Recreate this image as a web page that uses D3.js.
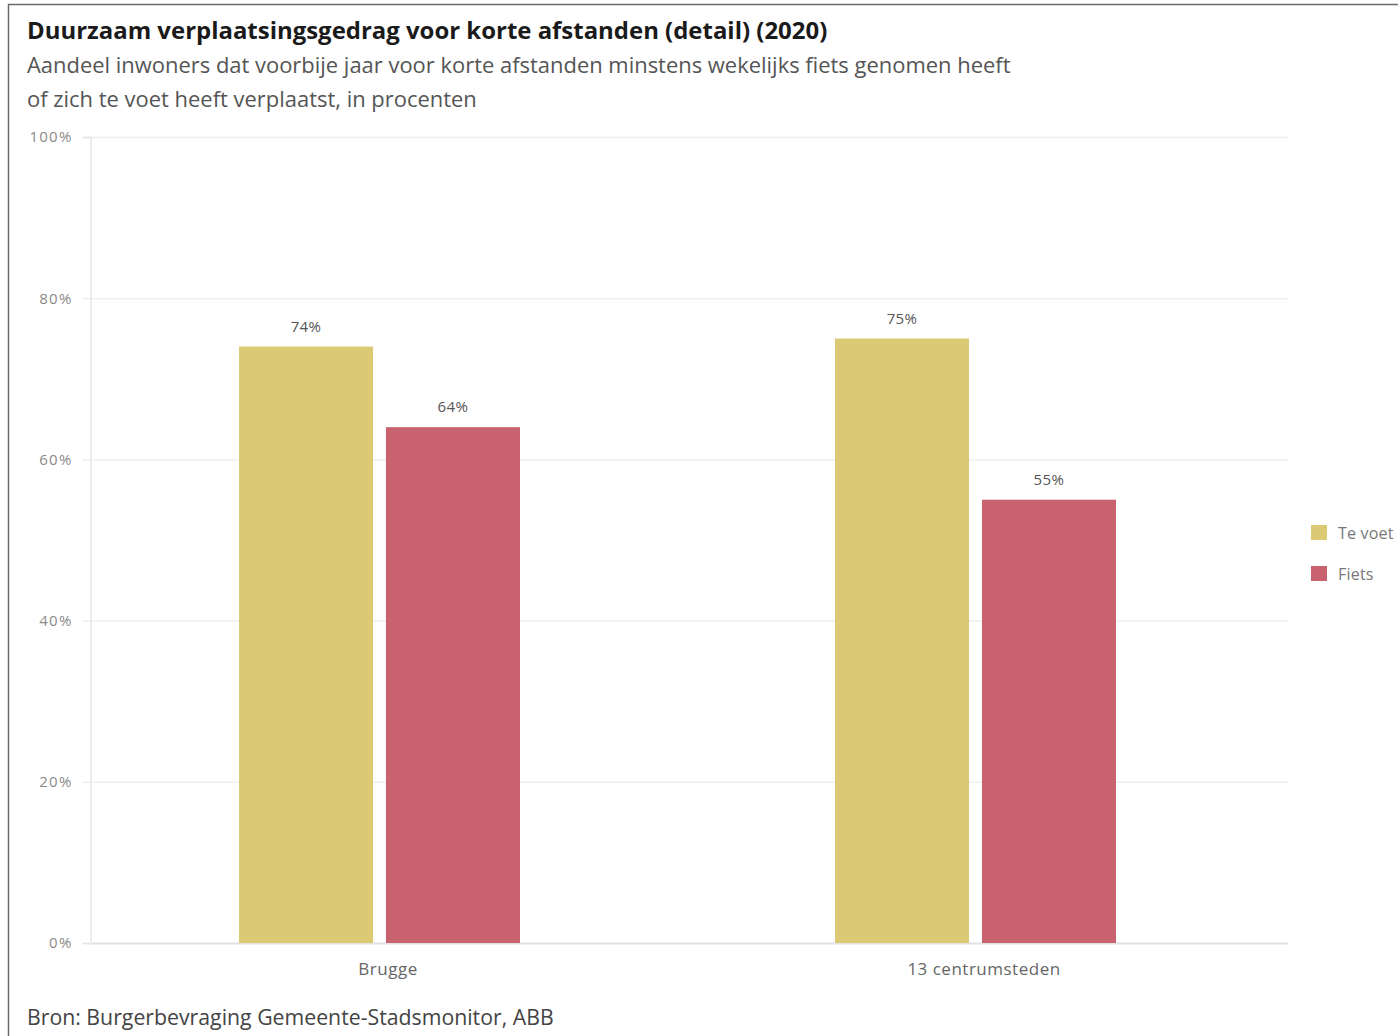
<!DOCTYPE html>
<html><head><meta charset="utf-8">
<script src="https://cdn.jsdelivr.net/npm/d3@7"></script>
<style>
html,body{margin:0;padding:0;background:#fff;overflow:hidden;}
text{font-family:"Open Sans","Noto Sans",sans-serif;}
</style></head>
<body>
<svg id="chart" width="1398" height="1036"></svg>
<script>
const categories = ["Brugge", "13 centrumsteden"];
const seriesNames = ["Te voet", "Fiets"];
const teVoet = [74, 75];
const fiets = [64, 55];
const yTicks = [0, 20, 40, 60, 80, 100];
const yTickLabels = ["0%", "20%", "40%", "60%", "80%", "100%"];
const colors = ["#dbc974", "#c9626f"];

const title = "Duurzaam verplaatsingsgedrag voor korte afstanden (detail) (2020)";
const subtitle1 = "Aandeel inwoners dat voorbije jaar voor korte afstanden minstens wekelijks fiets genomen heeft";
const subtitle2 = "of zich te voet heeft verplaatst, in procenten";
const source = "Bron: Burgerbevraging Gemeente-Stadsmonitor, ABB";

const svg = d3.select("#chart");
const seriesValues = [teVoet, fiets];

// frame
svg.append("rect").attr("x", 8.5).attr("y", 4.5).attr("width", 1500).attr("height", 1200)
  .attr("fill", "none").attr("stroke", "#6b6b6b").attr("stroke-width", 1.5);

function fitText(sel, w) {
  const n = sel.node();
  const cur = n.getComputedTextLength();
  const fs = parseFloat(sel.attr("font-size"));
  sel.attr("font-size", fs * w / cur);
}

const t = svg.append("text").attr("x", 27).attr("y", 39).attr("font-size", 20)
  .attr("font-weight", 700).attr("fill", "#1a1a1a").text(title);
fitText(t, 801);
const s1 = svg.append("text").attr("x", 27).attr("y", 73).attr("font-size", 17)
  .attr("fill", "#555").text(subtitle1);
fitText(s1, 984);
const s2 = svg.append("text").attr("x", 27).attr("y", 107).attr("font-size", 17)
  .attr("fill", "#555").text(subtitle2);
s2.attr("font-size", s1.attr("font-size"));

const y = d3.scaleLinear().domain([0, 100]).range([943, 137]);
const x0 = d3.scaleBand().domain(categories).range([90, 1282]).paddingInner(0.5).paddingOuter(0.25);
const x1 = d3.scaleBand().domain(seriesNames).range([0, 281]).paddingInner(0.088);

// grid
svg.append("g").selectAll("line").data(yTicks).join("line")
  .attr("x1", 90).attr("x2", 1288)
  .attr("y1", d => y(d) + 0.5).attr("y2", d => y(d) + 0.5)
  .attr("stroke", d => d === 0 ? "#e2e2e2" : "#efefef").attr("stroke-width", d => d === 0 ? 2 : 1.5);

// y axis
const yAxis = d3.axisLeft(y).tickValues(yTicks).tickFormat((d, i) => yTickLabels[i]).tickSize(8).tickPadding(10);
const ga = svg.append("g").attr("transform", "translate(90.5,0)").call(yAxis);
ga.select(".domain").attr("stroke", "#ececec").attr("stroke-width", 2);
ga.selectAll(".tick line").attr("stroke", "#e4e4e4");
ga.selectAll(".tick text").attr("fill", "#8a8a8a").attr("font-size", 15)
  .attr("font-family", "'Open Sans','Noto Sans',sans-serif").attr("letter-spacing", 1.2);

// bars
const groups = svg.append("g").selectAll("g").data(categories).join("g")
  .attr("transform", d => `translate(${x0(d)},0)`);
groups.selectAll("rect").data((c, ci) => seriesNames.map((s, si) => ({s, si, v: seriesValues[si][ci]})))
  .join("rect")
  .attr("x", d => x1(d.s)).attr("width", x1.bandwidth())
  .attr("y", d => y(d.v)).attr("height", d => y(0) - y(d.v))
  .attr("fill", d => colors[d.si]);
groups.selectAll("text.val").data((c, ci) => seriesNames.map((s, si) => ({s, si, v: seriesValues[si][ci]})))
  .join("text").attr("class", "val")
  .attr("x", d => x1(d.s) + x1.bandwidth() / 2).attr("y", d => y(d.v) - 15)
  .attr("text-anchor", "middle").attr("font-size", 15).attr("fill", "#555").attr("letter-spacing", 0.4)
  .text(d => d.v + "%");

// x labels
svg.append("g").selectAll("text").data(categories).join("text")
  .attr("x", d => x0(d) + x0.bandwidth() / 2).attr("y", 975)
  .attr("text-anchor", "middle").attr("font-size", 17).attr("fill", "#666").attr("letter-spacing", 0.5)
  .text(d => d);

// legend
const lg = svg.append("g").selectAll("g").data(seriesNames).join("g")
  .attr("transform", (d, i) => `translate(1311,${525 + i * 41})`);
lg.append("rect").attr("width", 16).attr("height", 15).attr("fill", (d, i) => colors[i]);
lg.append("text").attr("x", 27).attr("y", 14).attr("font-size", 16).attr("fill", "#777")
  .attr("letter-spacing", 0.2).text(d => d);

// source
const src = svg.append("text").attr("x", 27).attr("y", 1025).attr("font-size", 17).attr("fill", "#444").text(source);
fitText(src, 527);
</script>
</body></html>
